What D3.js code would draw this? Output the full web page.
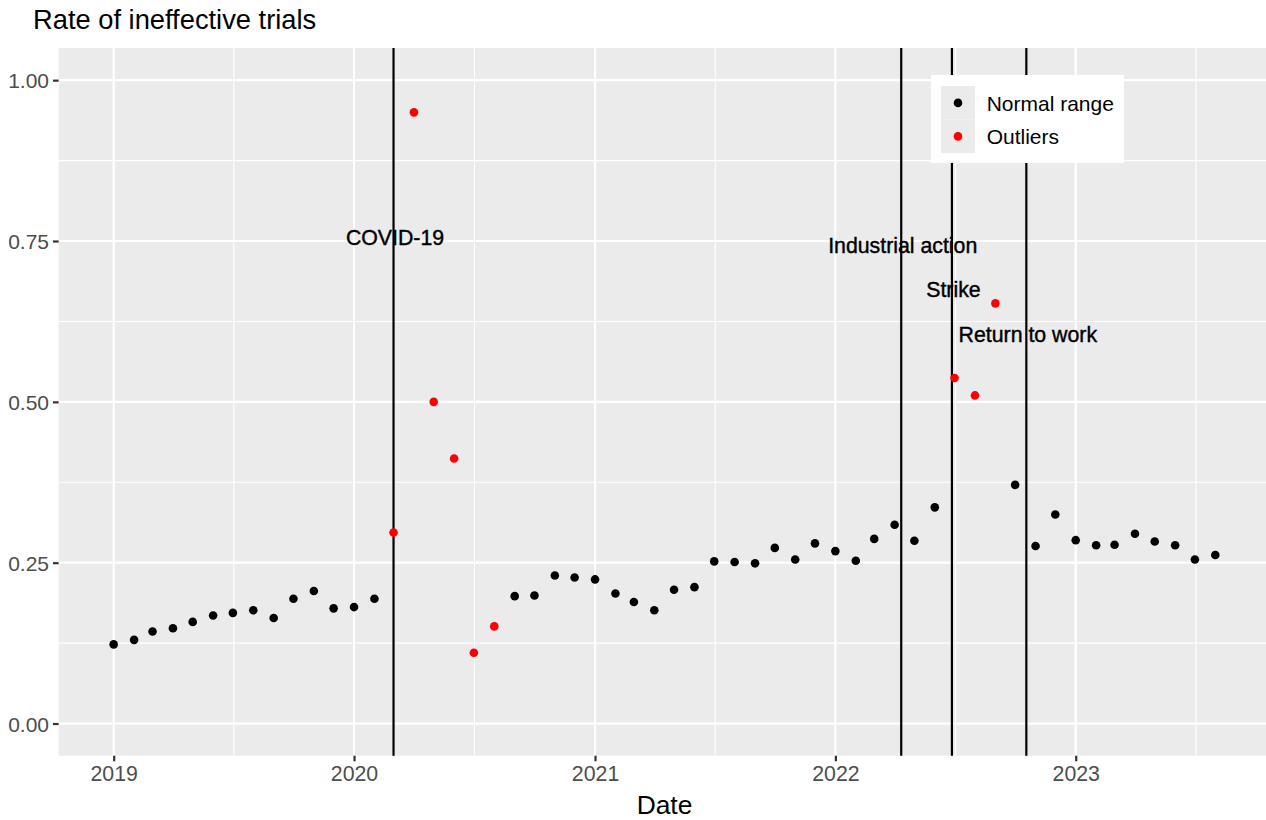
<!DOCTYPE html>
<html>
<head>
<meta charset="utf-8">
<script src="https://cdn.jsdelivr.net/npm/d3@7"></script>
<style>
  body { margin: 0; background: #fff; }
  svg { display: block; font-family: "Liberation Sans", Arial, Helvetica, sans-serif; }
</style>
</head>
<body>
<div id="chart"></div>
<script>
// data
const months = [
  '2019-01', '2019-02', '2019-03', '2019-04', '2019-05', '2019-06',
  '2019-07', '2019-08', '2019-09', '2019-10', '2019-11', '2019-12',
  '2020-01', '2020-02', '2020-03', '2020-04', '2020-05', '2020-06',
  '2020-07', '2020-08', '2020-09', '2020-10', '2020-11', '2020-12',
  '2021-01', '2021-02', '2021-03', '2021-04', '2021-05', '2021-06',
  '2021-07', '2021-08', '2021-09', '2021-10', '2021-11', '2021-12',
  '2022-01', '2022-02', '2022-03', '2022-04', '2022-05', '2022-06',
  '2022-07', '2022-08', '2022-09', '2022-10', '2022-11', '2022-12',
  '2023-01', '2023-02', '2023-03', '2023-04', '2023-05', '2023-06',
  '2023-07', '2023-08'
]
const rates = [
  0.123, 0.130, 0.143, 0.148, 0.158, 0.168, 0.172, 0.176, 0.164, 0.194, 0.206, 0.179,
  0.181, 0.194, 0.297, 0.950, 0.500, 0.412, 0.110, 0.151, 0.198, 0.199, 0.230, 0.227,
  0.224, 0.202, 0.189, 0.176, 0.208, 0.212, 0.252, 0.251, 0.249, 0.273, 0.255, 0.280,
  0.268, 0.253, 0.287, 0.309, 0.284, 0.336, 0.537, 0.510, 0.653, 0.371, 0.276, 0.325,
  0.285, 0.277, 0.278, 0.295, 0.283, 0.277, 0.255, 0.262
]
const outlierMonths = [
  '2020-03', '2020-04', '2020-05', '2020-06', '2020-07', '2020-08',
  '2022-07', '2022-08', '2022-09'
]

const eventLabels = ['COVID-19', 'Industrial action', 'Strike', 'Return to work']
const eventDates = ['2020-03-01', '2022-04-11', '2022-06-27', '2022-10-18']
const eventLabelY = [0.755, 0.743, 0.675, 0.605]

const yTicks = [0, 0.25, 0.5, 0.75, 1]
const yTickLabels = ['0.00', '0.25', '0.50', '0.75', '1.00']
const xTickYears = ['2019', '2020', '2021', '2022', '2023']

const legendLabels = ['Normal range', 'Outliers']
const legendColors = ['#000000', '#ff0000']

/*
 * layout, in the same pixels as the reference picture
 */
const width = 1266
const height = 820
const panel = { left: 58.6, right: 1270.4, top: 48, bottom: 755.7 }

const parseMonth = d3.utcParse('%Y-%m')
const parseDay = d3.utcParse('%Y-%m-%d')
const parseYear = d3.utcParse('%Y')

const points = months.map((m, i) => ({
  date: parseMonth(m),
  rate: rates[i],
  group: outlierMonths.includes(m) ? 1 : 0
}))

// ggplot style 5% expansion of the data range
const dateExtent = d3.extent(points, d => d.date)
const pad = 0.05 * (dateExtent[1] - dateExtent[0])
const x = d3
  .scaleUtc()
  .domain([new Date(+dateExtent[0] - pad), new Date(+dateExtent[1] + pad)])
  .range([panel.left, panel.right])
const y = d3
  .scaleLinear()
  .domain([-0.05, 1.05])
  .range([panel.bottom, panel.top])

const svg = d3
  .select('#chart')
  .append('svg')
  .attr('width', width)
  .attr('height', height)

svg.append('rect')
  .attr('width', width)
  .attr('height', height)
  .attr('fill', '#ffffff')

// panel background
svg.append('rect')
  .attr('x', panel.left)
  .attr('y', panel.top)
  .attr('width', panel.right - panel.left)
  .attr('height', panel.bottom - panel.top)
  .attr('fill', '#ebebeb')

const grid = svg.append('g')

// minor grid: midpoints between major breaks
const yMinor = d3.pairs(yTicks).map(p => (p[0] + p[1]) / 2)
const majorYears = d3.utcYear.range(d3.utcYear.floor(x.domain()[0]), d3.utcYear.offset(x.domain()[1], 1))
const xMinor = d3.pairs(majorYears)
  .map(p => new Date((+p[0] + +p[1]) / 2))
  .filter(d => d >= x.domain()[0] && d <= x.domain()[1])

grid.selectAll('.ymin')
  .data(yMinor)
  .join('line')
  .attr('x1', panel.left).attr('x2', panel.right)
  .attr('y1', d => y(d)).attr('y2', d => y(d))
  .attr('stroke', '#ffffff')
  .attr('stroke-width', 1.1)

grid.selectAll('.xmin')
  .data(xMinor)
  .join('line')
  .attr('x1', d => x(d)).attr('x2', d => x(d))
  .attr('y1', panel.top).attr('y2', panel.bottom)
  .attr('stroke', '#ffffff')
  .attr('stroke-width', 1.1)

grid.selectAll('.ymaj')
  .data(yTicks)
  .join('line')
  .attr('x1', panel.left).attr('x2', panel.right)
  .attr('y1', d => y(d)).attr('y2', d => y(d))
  .attr('stroke', '#ffffff')
  .attr('stroke-width', 2.2)

grid.selectAll('.xmaj')
  .data(xTickYears)
  .join('line')
  .attr('x1', d => x(parseYear(d))).attr('x2', d => x(parseYear(d)))
  .attr('y1', panel.top).attr('y2', panel.bottom)
  .attr('stroke', '#ffffff')
  .attr('stroke-width', 2.2)

// event lines
svg.append('g')
  .selectAll('line')
  .data(eventDates)
  .join('line')
  .attr('x1', d => x(parseDay(d))).attr('x2', d => x(parseDay(d)))
  .attr('y1', panel.top).attr('y2', panel.bottom)
  .attr('stroke', '#000000')
  .attr('stroke-width', 2.2)

// points
svg.append('g')
  .selectAll('circle')
  .data(points)
  .join('circle')
  .attr('cx', d => x(d.date))
  .attr('cy', d => y(d.rate))
  .attr('r', 4.3)
  .attr('fill', d => legendColors[d.group])

// event labels
svg.append('g')
  .selectAll('text')
  .data(eventLabels)
  .join('text')
  .attr('x', (d, i) => x(parseDay(eventDates[i])) + 1.5)
  .attr('y', (d, i) => y(eventLabelY[i]))
  .attr('dy', '0.36em')
  .attr('text-anchor', 'middle')
  .attr('font-size', 21.3)
  .attr('fill', '#000000')
  .attr('stroke', '#000000')
  .attr('stroke-width', 0.4)
  .text(d => d)

// y axis
const yAxis = d3.axisLeft(y)
  .tickValues(yTicks)
  .tickFormat((d, i) => yTickLabels[i])
  .tickSize(5.6)
  .tickPadding(4)
svg.append('g')
  .attr('transform', 'translate(' + panel.left + ',0)')
  .call(yAxis)
  .call(g => g.select('.domain').remove())
  .call(g => g.selectAll('.tick line').attr('stroke', '#333333').attr('stroke-width', 2.2))
  .call(g => g.selectAll('.tick text')
    .attr('fill', '#4d4d4d')
    .attr('font-size', 21)
    .attr('font-family', null)
    .attr('dy', '0.36em'))

// x axis
const xAxis = d3.axisBottom(x)
  .tickValues(xTickYears.map(parseYear))
  .tickFormat((d, i) => xTickYears[i])
  .tickSize(5.6)
  .tickPadding(5)
svg.append('g')
  .attr('transform', 'translate(0,' + panel.bottom + ')')
  .call(xAxis)
  .call(g => g.select('.domain').remove())
  .call(g => g.selectAll('.tick line').attr('stroke', '#333333').attr('stroke-width', 2.2))
  .call(g => g.selectAll('.tick text')
    .attr('fill', '#4d4d4d')
    .attr('font-size', 21.3)
    .attr('font-family', null)
    .attr('dy', '0.71em'))

// axis title and plot title
svg.append('text')
  .attr('x', (panel.left + panel.right) / 2)
  .attr('y', 814)
  .attr('text-anchor', 'middle')
  .attr('font-size', 26.4)
  .attr('fill', '#000000')
  .text('Date')

svg.append('text')
  .attr('x', 33)
  .attr('y', 29)
  .attr('font-size', 27.3)
  .attr('fill', '#000000')
  .text('Rate of ineffective trials')

// legend inside the panel
const legend = svg.append('g').attr('transform', 'translate(931,75)')
legend.append('rect')
  .attr('width', 193)
  .attr('height', 88)
  .attr('fill', '#ffffff')
const keys = legend.selectAll('g')
  .data(legendLabels)
  .join('g')
  .attr('transform', (d, i) => 'translate(10,' + (11 + i * 33.5) + ')')
keys.append('rect')
  .attr('width', 34)
  .attr('height', 33.5)
  .attr('fill', '#ebebeb')
keys.append('circle')
  .attr('cx', 17)
  .attr('cy', 16.9)
  .attr('r', 4.3)
  .attr('fill', (d, i) => legendColors[i])
keys.append('text')
  .attr('x', 45.7)
  .attr('y', 17.3)
  .attr('dy', '0.36em')
  .attr('font-size', 21)
  .attr('fill', '#000000')
  .text(d => d)
</script>
</body>
</html>
